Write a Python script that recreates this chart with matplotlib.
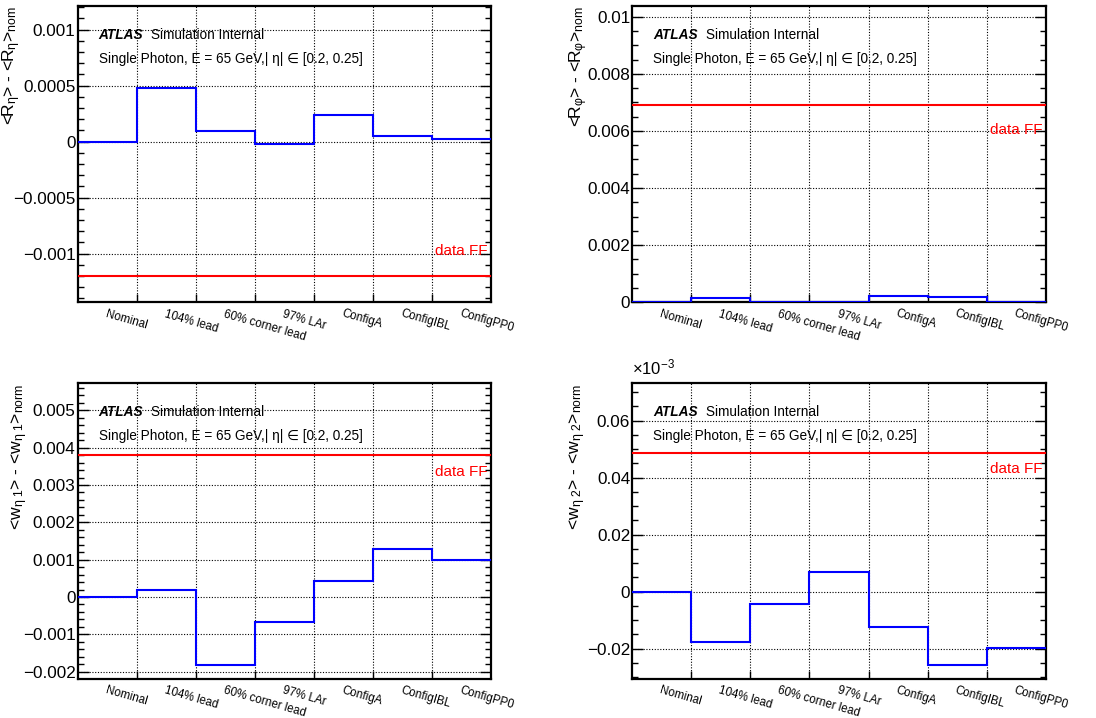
import matplotlib
matplotlib.use("Agg")
import matplotlib.pyplot as plt
import numpy as np
from matplotlib.ticker import MultipleLocator, AutoMinorLocator, FuncFormatter

plt.rcParams['font.family'] = ['Liberation Sans', 'DejaVu Sans']
plt.rcParams['mathtext.fontset'] = 'custom'
plt.rcParams['mathtext.rm'] = 'Liberation Sans'
plt.rcParams['mathtext.it'] = 'Liberation Sans:italic'
plt.rcParams['mathtext.bf'] = 'Liberation Sans:bold'

# ---------------- data ----------------
categories = ["Nominal", "104% lead", "60% corner lead", "97% LAr",
              "ConfigA", "ConfigIBL", "ConfigPP0"]

reta_diff = [0.0, 0.000482, 0.000092, -0.000024, 0.000238, 0.000054, 0.000024]
reta_dataff = -0.001196

rphi_diff = [0.0, 0.00014, 0.00002, 0.0, 0.000233, 0.000198, 0.00002]
rphi_dataff = 0.006896

weta1_diff = [0.0, 0.000196, -0.00182, -0.000661, 0.000429, 0.001277, 0.000991]
weta1_dataff = 0.003804

# values in units of 1e-3
weta2_diff = [0.0, -0.01778, -0.00444, 0.00702, -0.01240, -0.02573, -0.01988]
weta2_dataff = 0.04854

ylabels = [r"<R$_{\mathrm{η}}$> - <R$_{\mathrm{η}}$>$_{\rm nom}$",
           r"<R$_{\mathrm{φ}}$> - <R$_{\mathrm{φ}}$>$_{\rm nom}$",
           r"<w$_{\mathrm{η\ 1}}$> - <w$_{\mathrm{η\ 1}}$>$_{\rm norm}$",
           r"<w$_{\mathrm{η\ 2}}$> - <w$_{\mathrm{η\ 2}}$>$_{\rm norm}$"]

W, H = 1096, 718
fig = plt.figure(figsize=(W / 100, H / 100), dpi=100)


def ax_rect(l, t, r, b):
    return [l / W, 1 - b / H, (r - l) / W, (b - t) / H]


panels = [
    dict(rect=ax_rect(77.7, 6, 490.7, 302.3), vals=reta_diff, ff=reta_dataff,
         ylim=(-0.001434, 0.001211), major=0.0005, minor=5, ylab=ylabels[0],
         ylx=-0.16, ffy=0.160),
    dict(rect=ax_rect(632.3, 6, 1045.7, 302.3), vals=rphi_diff, ff=rphi_dataff,
         ylim=(0.0, 0.010373), major=0.002, minor=4, ylab=ylabels[1],
         ylx=-0.13, ffy=0.567),
    dict(rect=ax_rect(77.7, 383.3, 490.7, 679), vals=weta1_diff, ff=weta1_dataff,
         ylim=(-0.002196, 0.005723), major=0.001, minor=5, ylab=ylabels[2],
         ylx=-0.14, ffy=0.688),
    dict(rect=ax_rect(632.3, 383.3, 1045.7, 679), vals=weta2_diff, ff=weta2_dataff,
         ylim=(-0.03064, 0.0731), major=0.02, minor=4, ylab=ylabels[3],
         ylx=-0.133, ffy=0.696),
]

edges = np.arange(len(categories) + 1)
centers = edges[:-1] + 0.5


def fmt(v, pos):
    if abs(v) < 1e-12:
        return "0"
    return ("%g" % v).replace("-", "\u2212")


for i, p in enumerate(panels):
    ax = fig.add_axes(p['rect'])
    ax.stairs(p['vals'], edges, color=(0, 0, 1), lw=1.5, baseline=None, zorder=3)
    ax.axhline(p['ff'], color=(1, 0, 0), lw=1.5, zorder=3)
    ax.set_xlim(edges[0], edges[-1])
    ax.set_ylim(*p['ylim'])

    ax.yaxis.set_major_locator(MultipleLocator(p['major']))
    ax.yaxis.set_minor_locator(AutoMinorLocator(p['minor']))
    ax.yaxis.set_major_formatter(FuncFormatter(fmt))
    ax.tick_params(axis='y', which='major', direction='in', length=8, width=1,
                   left=True, right=True, labelsize=12.3, pad=1.5)
    ax.tick_params(axis='y', which='minor', direction='in', length=4, width=1,
                   left=True, right=True)

    ax.set_xticks(centers)
    ax.set_xticklabels(categories, rotation=-16, ha='left', va='top',
                       rotation_mode='anchor', fontsize=8.4)
    ax.set_xticks(edges[1:-1], minor=True)
    ax.tick_params(axis='x', which='major', length=0, pad=4)
    ax.tick_params(axis='x', which='minor', direction='in', length=6, width=1,
                   bottom=True, top=False)

    ax.yaxis.grid(True, which='major', color='black', linestyle=(0, (1, 1.5)), lw=0.8)
    ax.xaxis.grid(True, which='minor', color='black', linestyle=(0, (1, 1.5)), lw=0.8)
    ax.set_axisbelow(True)
    for s in ax.spines.values():
        s.set_linewidth(1.6)

    ax.text(p['ylx'], 1.0, p['ylab'], transform=ax.transAxes, rotation=90,
            ha='center', va='top', fontsize=12.6)

    ax.text(0.051, 0.888, "ATLAS", transform=ax.transAxes, fontsize=9.8,
            fontweight='bold', style='italic', va='baseline', ha='left')
    ax.text(0.1775, 0.888, "Simulation Internal", transform=ax.transAxes,
            fontsize=9.8, va='baseline', ha='left')
    ax.text(0.051, 0.807, "Single Photon, E = 65 GeV,| \u03b7| \u2208 [0.2, 0.25]",
            transform=ax.transAxes, fontsize=9.8, va='baseline', ha='left')
    ax.text(0.993, p['ffy'], "data FF", transform=ax.transAxes, color=(1, 0, 0),
            fontsize=11, va='baseline', ha='right')

    if i == 3:
        ax.text(0.0, 1.02, r"$\times$10$^{-3}$", transform=ax.transAxes,
                fontsize=12, va='bottom', ha='left')

fig.savefig("out.png", dpi=100)
